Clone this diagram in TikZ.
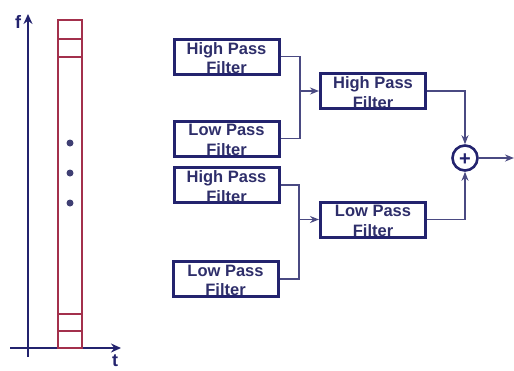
\documentclass[tikz,border=0pt]{standalone}
\usepackage{fontspec}
\setmainfont{Liberation Sans}
\usetikzlibrary{arrows.meta}
\definecolor{navy}{HTML}{23236E}
\definecolor{txt}{HTML}{2E2E6A}
\definecolor{wire}{HTML}{4A4A82}
\definecolor{bar}{HTML}{A3304C}
\begin{document}
\begin{tikzpicture}[x=1pt,y=-1pt,
  filt/.style={draw=navy,line width=3pt,minimum width=105pt,minimum height=35pt,inner sep=0pt},
  lbl/.style={text=txt,font=\fontsize{16.5}{19.5}\selectfont\bfseries,align=center},
  wirel/.style={draw=wire,line width=1.8pt},
  arr/.style={-{Stealth[length=9pt,width=7pt]}}]
\useasboundingbox (0,0) rectangle (514,370);
% time-frequency plot
\draw[navy,line width=2.6pt,-{Stealth[length=10pt,width=9pt]}] (28,357) coordinate (fb) -- (28,14) coordinate (ft);
\draw[navy,line width=2.6pt,-{Stealth[length=10pt,width=9pt]}] (10,348) coordinate (tl) -- (121,348) coordinate (tr);
\node[text=navy,font=\fontsize{18}{18}\selectfont\bfseries] (flab) at (18,22) {f};
\node[text=navy,font=\fontsize{18}{18}\selectfont\bfseries] (tlab) at (115,361) {t};
\draw[bar,line width=2.2pt] (58,20) rectangle (82,348);
\draw[bar,line width=2pt] (58,39) -- (82,39) (58,57) -- (82,57) (58,314) -- (82,314) (58,331) -- (82,331);
\foreach \yy in {143,173,203} \fill[navy!70!gray] (70,\yy) circle (3.5pt);
% filter boxes
\node[filt] (hp1) at (226.5,56.5) {};
\node[lbl] at (226.5,58) {High Pass\\Filter};
\node[filt] (lp1) at (226.5,138.5) {};
\node[lbl] at (226.5,140) {Low Pass\\Filter};
\node[filt] (hp2) at (226.5,185) {};
\node[lbl] at (226.5,186.5) {High Pass\\Filter};
\node[filt] (lp2) at (225.5,279) {};
\node[lbl] at (225.5,280.5) {Low Pass\\Filter};
\node[filt] (hpm) at (373,91) {};
\node[lbl] at (373,92.5) {High Pass\\Filter};
\node[filt] (lpm) at (373,219.5) {};
\node[lbl] at (373,221) {Low Pass\\Filter};
\node[draw=navy,line width=2.6pt,circle,minimum size=25pt,inner sep=0pt] (sum) at (465,158) {};
\node[text=navy,font=\fontsize{20}{20}\selectfont\bfseries] at (465,159.5) {+};
\coordinate (out) at (514,158);
% connectors
\draw[wirel] (hp1.east) -- (300,56.5) -- (300,138.5) -- (lp1.east);
\draw[wirel,arr] (300,91) -- (hpm.west);
\draw[wirel] (hp2.east) -- (299,185) -- (299,279) -- (lp2.east);
\draw[wirel,arr] (299,219.5) -- (lpm.west);
\draw[wirel,arr] (hpm.east) -| (sum.north);
\draw[wirel,arr] (lpm.east) -| (sum.south);
\draw[wirel,arr] (sum.east) -- (out);
\end{tikzpicture}
\end{document}
